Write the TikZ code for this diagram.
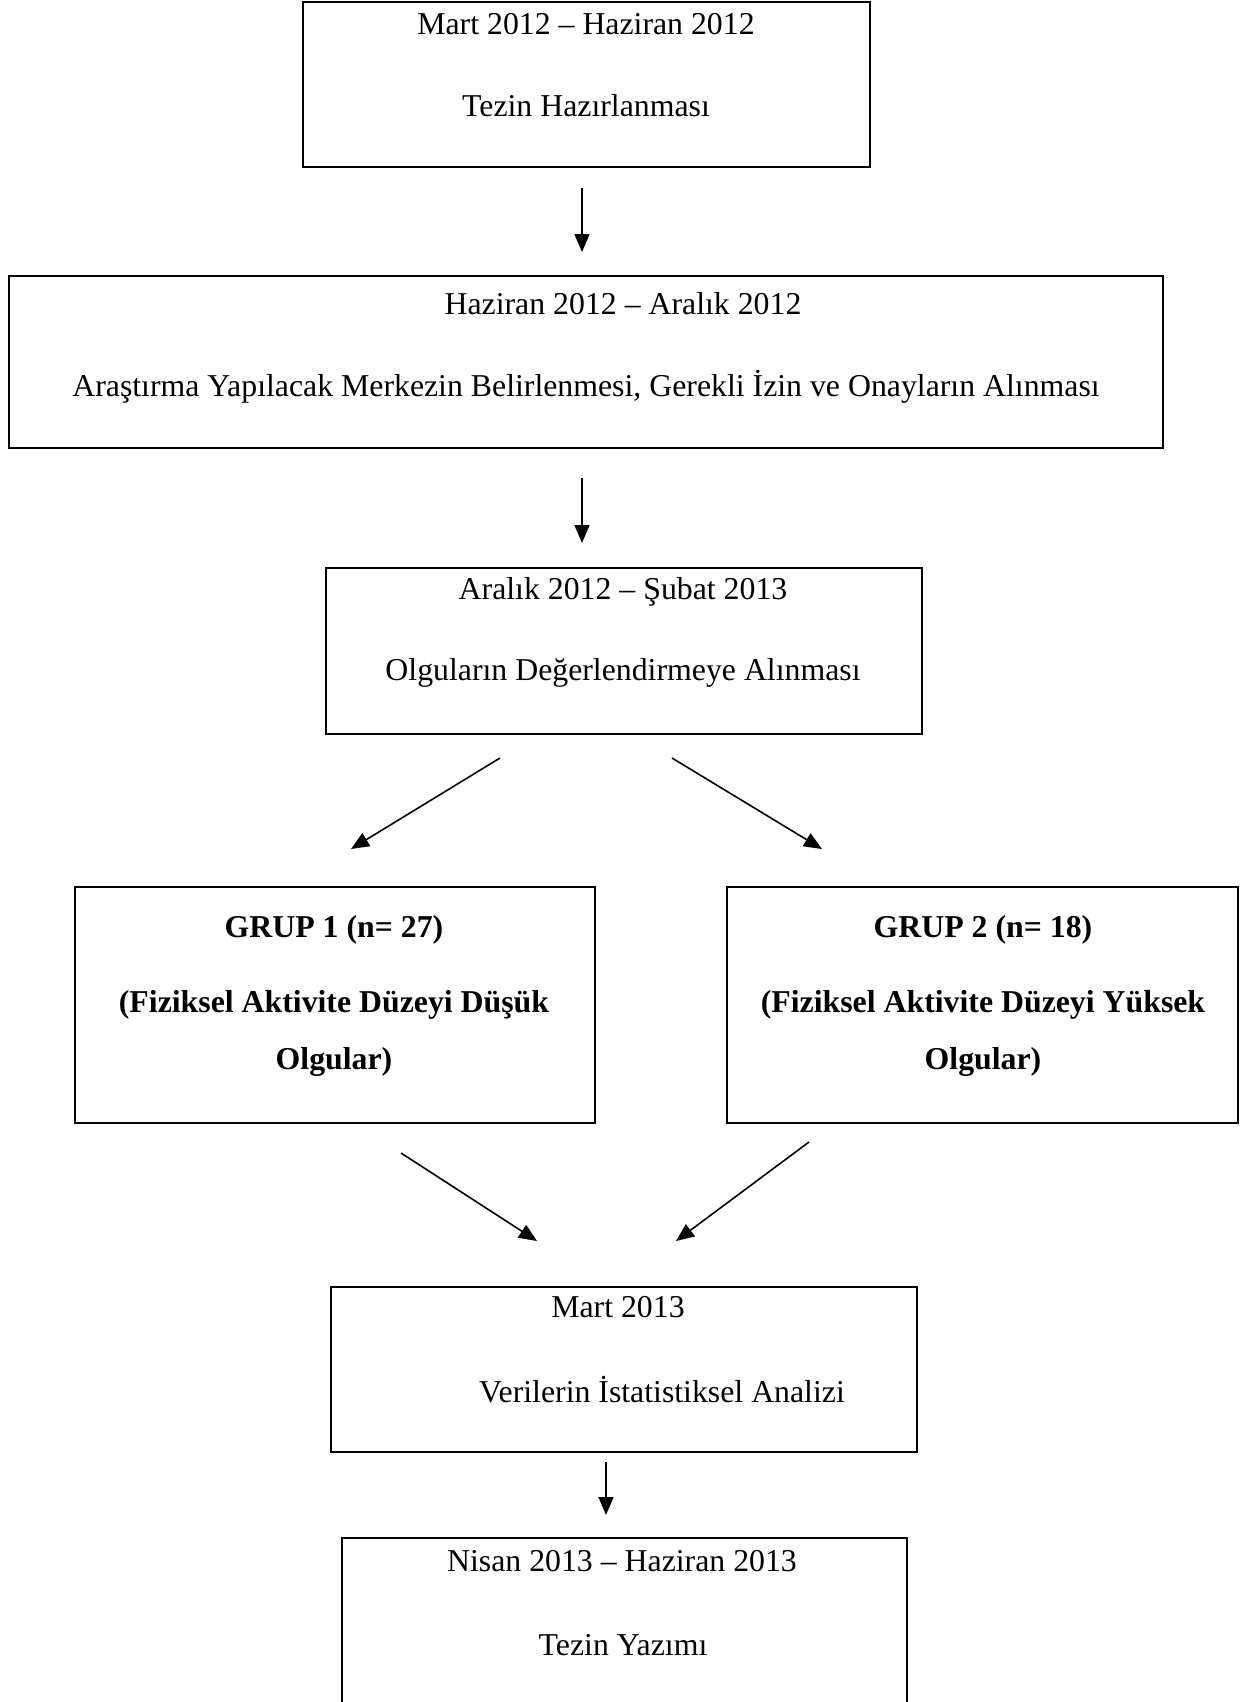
\documentclass[tikz,border=0pt]{standalone}
\usepackage{fontspec}
\setmainfont{Liberation Serif}
\usetikzlibrary{arrows.meta, positioning}

\tikzset{
  stepbox/.style={draw, line width=1pt, rectangle, inner sep=0pt},
  lbl/.style={inner sep=0pt, font=\fontsize{15.9}{19}\selectfont},
  blbl/.style={inner sep=0pt, font=\fontsize{15.9}{19}\selectfont\bfseries},
  flow/.style={-{Triangle[length=9pt,width=7.5pt]}, line width=0.8pt},
}

\begin{document}
\begin{tikzpicture}[x=0.5pt, y=-0.5pt]
    \useasboundingbox (0,0) rectangle (1242,1702);
    \clip (0,0) rectangle (1242,1702);

    % Boxes
    \node[stepbox, minimum width=283.5pt, minimum height=82.5pt] (hazirlik) at (586.5,84.5) {};
    \node[stepbox, minimum width=577pt, minimum height=86pt] (izin) at (586,362) {};
    \node[stepbox, minimum width=298pt, minimum height=83pt] (olgu) at (624,651) {};
    \node[stepbox, minimum width=260pt, minimum height=118pt] (grup1) at (335,1005) {};
    \node[stepbox, minimum width=255.5pt, minimum height=118pt] (grup2) at (982.5,1005) {};
    \node[stepbox, minimum width=293pt, minimum height=82.5pt] (analiz) at (624,1369.5) {};
    \node[stepbox, minimum width=282.5pt, minimum height=92pt] (yazim) at (624.5,1630) {};

    % Texts
    \node[lbl] (hazirlik-t) at (586,24) {Mart 2012 -- Haziran 2012};
    \node[lbl] (hazirlik-a) at (586,106) {Tezin Hazırlanması};
    \node[lbl] (izin-t) at (623,304) {Haziran 2012 -- Aralık 2012};
    \node[lbl] (izin-a) at (586,387) {Araştırma Yapılacak Merkezin Belirlenmesi, Gerekli İzin ve Onayların Alınması};
    \node[lbl] (olgu-t) at (623,592) {Aralık 2012 -- Şubat 2013};
    \node[lbl] (olgu-a) at (623,673) {Olguların Değerlendirmeye Alınması};
    \node[blbl] (grup1-t) at (334,930) {GRUP 1 (n= 27)};
    \node[blbl] (grup1-a) at (334,1005) {(Fiziksel Aktivite Düzeyi Düşük};
    \node[blbl] (grup1-b) at (334,1062) {Olgular)};
    \node[blbl] (grup2-t) at (983,930) {GRUP 2 (n= 18)};
    \node[blbl] (grup2-a) at (983,1005) {(Fiziksel Aktivite Düzeyi Yüksek};
    \node[blbl] (grup2-b) at (983,1062) {Olgular)};
    \node[lbl] (analiz-t) at (618,1307) {Mart 2013};
    \node[lbl] (analiz-a) at (662,1390) {Verilerin İstatistiksel Analizi};
    \node[lbl] (yazim-t) at (622,1561) {Nisan 2013 -- Haziran 2013};
    \node[lbl] (yazim-a) at (623,1645) {Tezin Yazımı};

    % Arrow ends
    \coordinate (a1s) at (582,188);   \coordinate (a1e) at (582,252);
    \coordinate (a2s) at (582,478);   \coordinate (a2e) at (582,543);
    \coordinate (a3s) at (500,758);   \coordinate (a3e) at (351,849);
    \coordinate (a4s) at (672,758);   \coordinate (a4e) at (822,849);
    \coordinate (a5s) at (401,1153);  \coordinate (a5e) at (537,1241);
    \coordinate (a6s) at (809,1142);  \coordinate (a6e) at (676,1241);
    \coordinate (a7s) at (606,1462);  \coordinate (a7e) at (606,1515);

    \foreach \i in {1,...,7} {
        \draw[flow] (a\i s) -- (a\i e);
    }
\end{tikzpicture}
\end{document}
